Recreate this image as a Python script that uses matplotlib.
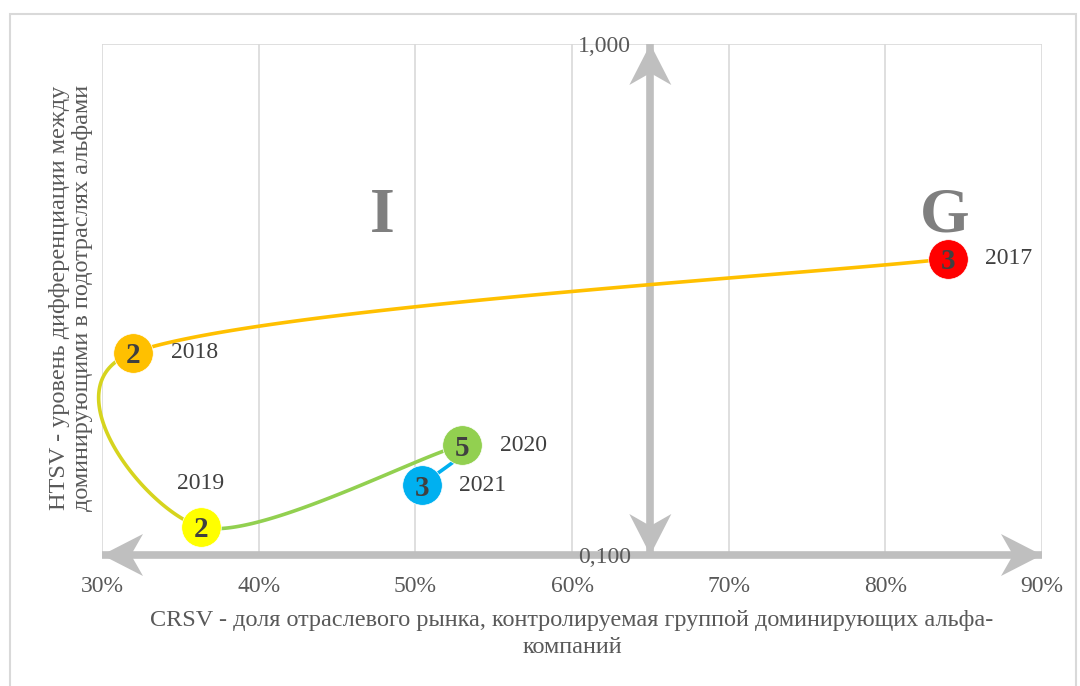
import matplotlib.pyplot as plt
import numpy as np
from matplotlib.patches import Rectangle, Polygon

plt.rcParams['font.family'] = ['Liberation Serif', 'DejaVu Serif']

years = ["2017", "2018", "2019", "2020", "2021"]
crsv = [0.840, 0.320, 0.363, 0.530, 0.504]
htsv = [0.380, 0.249, 0.1135, 0.164, 0.137]
counts = [3, 2, 2, 5, 3]
point_colors = ["#FF0000", "#FFC000", "#FFFF00", "#92D050", "#00B0F0"]
segment_colors = ["#FFC000", "#D6D41E", "#92D050", "#00B0F0"]
x_ticks = [0.3, 0.4, 0.5, 0.6, 0.7, 0.8, 0.9]
x_tick_labels = ["30%", "40%", "50%", "60%", "70%", "80%", "90%"]
y_ticks = [0.1, 1.0]
y_tick_labels = ["0,100", "1,000"]
# label offsets in points (dx, dy)
year_offsets = [(27, 0), (27, 0), (0, 31), (27, 0), (27, 0)]

grid_c = "#D9D9D9"
text_c = "#595959"
arrow_c = "#BFBFBF"

fig = plt.figure(figsize=(10.8, 6.86), dpi=100)
fig.patches.append(Rectangle((10 / 1080, -0.05), 1066 / 1080, 1 - 14 / 686 + 0.05,
                             transform=fig.transFigure, fill=False, edgecolor=grid_c, lw=1.5))
ax = fig.add_axes([102 / 1080, 1 - 555 / 686, 940 / 1080, 511 / 686])
ax.set_yscale("log")
ax.spines["left"].set_position(("data", 0.65))
for s in ax.spines.values():
    s.set_visible(False)
ax.set_xlim(0.3, 0.9)
ax.set_ylim(0.1, 1.0)

ax.set_xticks(x_ticks)
ax.set_xticklabels(x_tick_labels, fontsize=17, color=text_c)
ax.set_yticks(y_ticks)
ax.set_yticklabels(y_tick_labels, fontsize=17, color=text_c)
ax.yaxis.set_minor_locator(plt.NullLocator())
ax.tick_params(axis="x", length=0, pad=15)
ax.tick_params(axis="y", length=0, pad=14)
for x in x_ticks:
    ax.axvline(x, color=grid_c, lw=1.2, zorder=0)
ax.axhline(1.0, color=grid_c, lw=1.2, zorder=0)

fig.canvas.draw()
to_disp = ax.transData.transform
to_data = ax.transData.inverted().transform


def double_arrow(a, b):
    pa, pb = to_disp([a, b])
    d = (pb - pa) / np.linalg.norm(pb - pa)
    perp = np.array([-d[1], d[0]])
    L, W, notch = 41, 21, 29
    ax.plot([a[0], b[0]], [a[1], b[1]], color=arrow_c, lw=5.5, zorder=1, clip_on=False,
            solid_capstyle="butt")
    for tip, dd in [(pa, -d), (pb, d)]:
        head = [tip, tip - L * dd + W * perp, tip - notch * dd, tip - L * dd - W * perp]
        ax.add_patch(Polygon(to_data(np.array(head)), closed=True, color=arrow_c, lw=0,
                             zorder=1, clip_on=False))


double_arrow((0.30, 0.1), (0.90, 0.1))
double_arrow((0.65, 0.1), (0.65, 1.0))

# smoothed line (excel-like bezier) in display space
pts = to_disp(np.column_stack([crsv, htsv]))
n = len(pts)
tang = []
for i in range(n):
    prev = pts[i - 1] if i > 0 else pts[i]
    nxt = pts[i + 1] if i + 1 < n else pts[i]
    tang.append((nxt - prev) / 6)
for i in range(n - 1):
    p1, p2 = pts[i], pts[i + 1]
    half = np.linalg.norm(p2 - p1) / 2
    t1, t2 = tang[i], tang[i + 1]
    if np.linalg.norm(t1) > half:
        t1 = t1 / np.linalg.norm(t1) * half
    if np.linalg.norm(t2) > half:
        t2 = t2 / np.linalg.norm(t2) * half
    c1 = p1 + t1
    c2 = p2 - t2
    u = np.linspace(0, 1, 100)[:, None]
    curve = (1 - u) ** 3 * p1 + 3 * (1 - u) ** 2 * u * c1 + 3 * (1 - u) * u ** 2 * c2 + u ** 3 * p2
    curve = to_data(curve)
    ax.plot(curve[:, 0], curve[:, 1], color=segment_colors[i], lw=2.6, zorder=2, clip_on=False,
            solid_capstyle="round")

for x, y, c, k, yr, off in zip(crsv, htsv, point_colors, counts, years, year_offsets):
    ax.plot(x, y, "o", ms=28.5, color=c, mec="white", mew=0.5, zorder=3)
    ax.text(x, y, str(k), ha="center", va="center_baseline", fontsize=21, fontweight="bold",
            color="#404040", zorder=4)
    ha = "center" if off[0] == 0 else "left"
    ax.annotate(yr, (x, y), xytext=off, textcoords="offset points", ha=ha, va="center",
                fontsize=17, color="#404040", zorder=4)

ax.text(0.298, 0.662, "I", transform=ax.transAxes, ha="center", va="center", fontsize=46,
        fontweight="bold", color="#7F7F7F")
ax.text(0.897, 0.662, "G", transform=ax.transAxes, ha="center", va="center", fontsize=46,
        fontweight="bold", color="#7F7F7F")

fig.text(572 / 1080, 1 - 634 / 686,
         "CRSV - доля отраслевого рынка, контролируемая группой доминирующих альфа-\nкомпаний",
         ha="center", va="center", fontsize=17.5, color=text_c, linespacing=1.32)
fig.text(71 / 1080, 1 - 298 / 686,
         "HTSV - уровень дифференциации между\nдоминирующими в подотраслях альфами",
         ha="center", va="center", rotation=90, fontsize=17.5, color=text_c, linespacing=1.08)

fig.savefig("out.png", dpi=100)
